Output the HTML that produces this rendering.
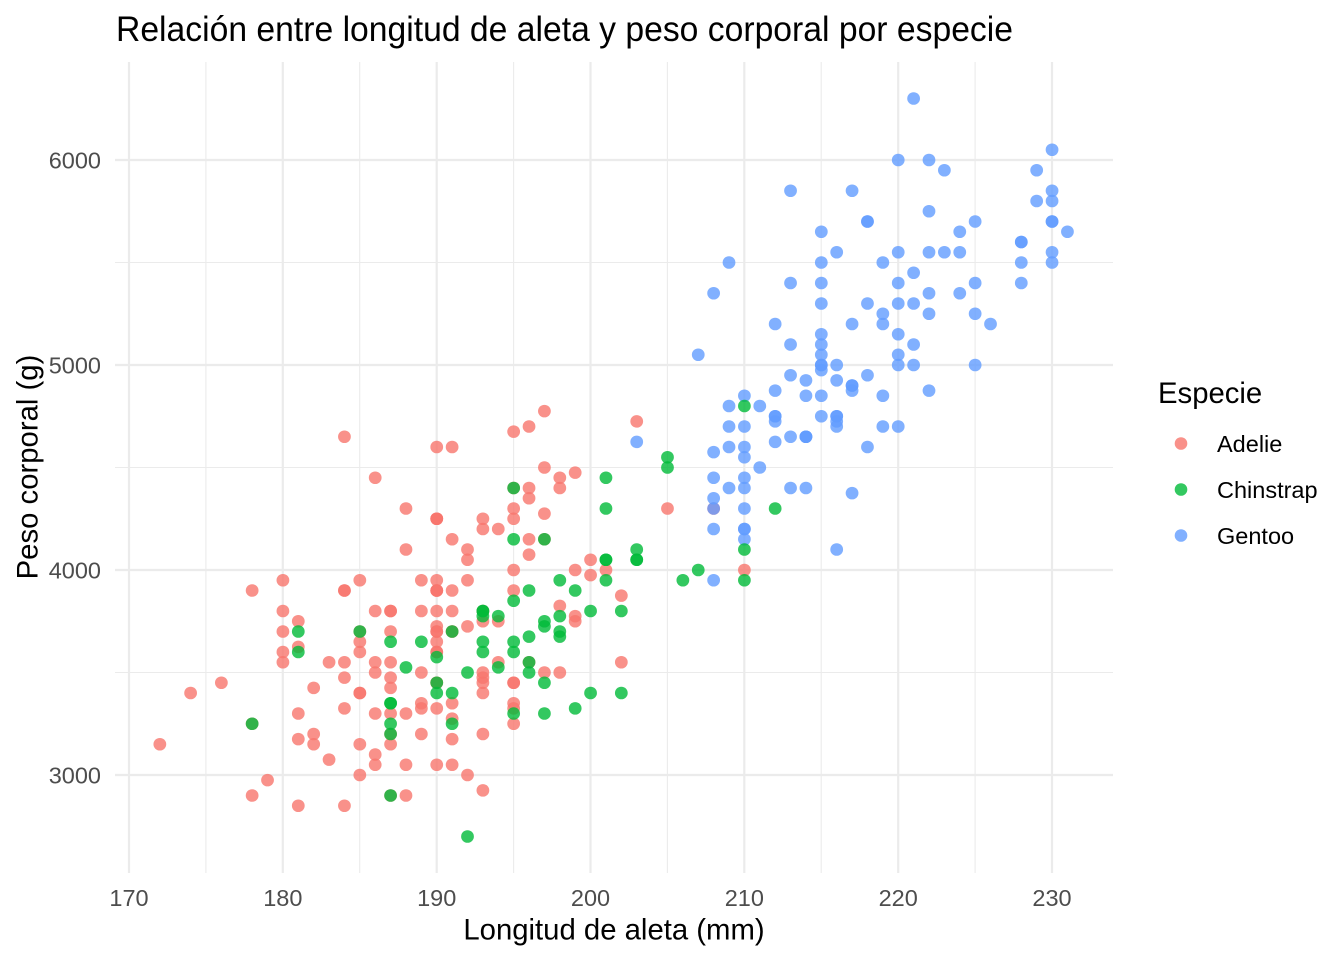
<!DOCTYPE html>
<html><head><meta charset="utf-8"><style>
html,body{margin:0;padding:0;background:#fff;}
svg{display:block;}
text{font-family:"Liberation Sans",Arial,sans-serif;}
.p path{fill:none;stroke-width:12.6px;stroke-linecap:round;vector-effect:non-scaling-stroke;stroke-opacity:.8;}
.a path{stroke:#F8766D;}
.g path{stroke:#619CFF;}
.c path{stroke:#00BA38;}
</style></head><body>
<svg width="1344" height="960" viewBox="0 0 1344 960" xmlns="http://www.w3.org/2000/svg">
<rect width="1344" height="960" fill="#fff"/>
<g stroke="#EBEBEB" fill="none">
<g stroke-width="1.1">
<line x1="205.9" y1="62" x2="205.9" y2="873"/><line x1="359.7" y1="62" x2="359.7" y2="873"/><line x1="513.6" y1="62" x2="513.6" y2="873"/><line x1="667.4" y1="62" x2="667.4" y2="873"/><line x1="821.2" y1="62" x2="821.2" y2="873"/><line x1="975.1" y1="62" x2="975.1" y2="873"/>
<line x1="115" y1="262.5" x2="1113" y2="262.5"/><line x1="115" y1="467.5" x2="1113" y2="467.5"/><line x1="115" y1="672.5" x2="1113" y2="672.5"/>
</g>
<g stroke-width="2.2">
<line x1="129" y1="62" x2="129" y2="873"/><line x1="282.8" y1="62" x2="282.8" y2="873"/><line x1="436.7" y1="62" x2="436.7" y2="873"/><line x1="590.5" y1="62" x2="590.5" y2="873"/><line x1="744.3" y1="62" x2="744.3" y2="873"/><line x1="898.2" y1="62" x2="898.2" y2="873"/><line x1="1052" y1="62" x2="1052" y2="873"/>
<line x1="115" y1="160" x2="1113" y2="160"/><line x1="115" y1="365" x2="1113" y2="365"/><line x1="115" y1="570" x2="1113" y2="570"/><line x1="115" y1="775" x2="1113" y2="775"/>
</g>
</g>
<g class="p" transform="matrix(15.383 0 0 -0.205 -2486.11 1390)">
<g class="a">
<path d="M181 3750h.01"/><path d="M186 3800h.01"/><path d="M195 3250h.01"/><path d="M193 3450h.01"/><path d="M190 3650h.01"/><path d="M181 3625h.01"/><path d="M195 4675h.01"/><path d="M193 3475h.01"/><path d="M190 4250h.01"/><path d="M186 3300h.01"/>
<path d="M180 3700h.01"/><path d="M182 3200h.01"/><path d="M191 3800h.01"/><path d="M198 4400h.01"/><path d="M185 3700h.01"/><path d="M195 3450h.01"/><path d="M197 4500h.01"/><path d="M184 3325h.01"/><path d="M194 4200h.01"/><path d="M174 3400h.01"/>
<path d="M180 3600h.01"/><path d="M189 3800h.01"/><path d="M185 3950h.01"/><path d="M180 3800h.01"/><path d="M187 3800h.01"/><path d="M183 3550h.01"/><path d="M187 3200h.01"/><path d="M172 3150h.01"/><path d="M180 3950h.01"/><path d="M178 3250h.01"/>
<path d="M178 3900h.01"/><path d="M188 3300h.01"/><path d="M184 3900h.01"/><path d="M195 3325h.01"/><path d="M196 4150h.01"/><path d="M190 3950h.01"/><path d="M180 3550h.01"/><path d="M181 3300h.01"/><path d="M184 4650h.01"/><path d="M182 3150h.01"/>
<path d="M195 3900h.01"/><path d="M186 3100h.01"/><path d="M196 4400h.01"/><path d="M185 3000h.01"/><path d="M190 4600h.01"/><path d="M182 3425h.01"/><path d="M179 2975h.01"/><path d="M190 3450h.01"/><path d="M191 4150h.01"/><path d="M186 3500h.01"/>
<path d="M188 4300h.01"/><path d="M190 3450h.01"/><path d="M200 4050h.01"/><path d="M187 2900h.01"/><path d="M191 3700h.01"/><path d="M186 3550h.01"/><path d="M193 3800h.01"/><path d="M181 2850h.01"/><path d="M194 3750h.01"/><path d="M185 3150h.01"/>
<path d="M195 4400h.01"/><path d="M185 3600h.01"/><path d="M192 4050h.01"/><path d="M184 2850h.01"/><path d="M192 3950h.01"/><path d="M195 3350h.01"/><path d="M188 4100h.01"/><path d="M190 3050h.01"/><path d="M198 4450h.01"/><path d="M190 3600h.01"/>
<path d="M190 3900h.01"/><path d="M196 3550h.01"/><path d="M197 4150h.01"/><path d="M190 3700h.01"/><path d="M195 4250h.01"/><path d="M191 3700h.01"/><path d="M184 3900h.01"/><path d="M187 3550h.01"/><path d="M195 4000h.01"/><path d="M189 3200h.01"/>
<path d="M196 4700h.01"/><path d="M187 3800h.01"/><path d="M193 4200h.01"/><path d="M191 3350h.01"/><path d="M194 3550h.01"/><path d="M190 3800h.01"/><path d="M189 3500h.01"/><path d="M189 3950h.01"/><path d="M190 3600h.01"/><path d="M202 3550h.01"/>
<path d="M205 4300h.01"/><path d="M185 3400h.01"/><path d="M186 4450h.01"/><path d="M187 3300h.01"/><path d="M208 4300h.01"/><path d="M190 3700h.01"/><path d="M196 4350h.01"/><path d="M178 2900h.01"/><path d="M192 4100h.01"/><path d="M192 3725h.01"/>
<path d="M203 4725h.01"/><path d="M183 3075h.01"/><path d="M190 4250h.01"/><path d="M193 2925h.01"/><path d="M184 3550h.01"/><path d="M199 3750h.01"/><path d="M190 3900h.01"/><path d="M181 3175h.01"/><path d="M197 4775h.01"/><path d="M198 3825h.01"/>
<path d="M191 4600h.01"/><path d="M193 3200h.01"/><path d="M197 4275h.01"/><path d="M191 3900h.01"/><path d="M196 4075h.01"/><path d="M188 2900h.01"/><path d="M199 3775h.01"/><path d="M189 3350h.01"/><path d="M189 3325h.01"/><path d="M187 3150h.01"/>
<path d="M198 3500h.01"/><path d="M176 3450h.01"/><path d="M202 3875h.01"/><path d="M186 3050h.01"/><path d="M199 4000h.01"/><path d="M191 3275h.01"/><path d="M195 4300h.01"/><path d="M191 3050h.01"/><path d="M210 4000h.01"/><path d="M190 3325h.01"/>
<path d="M197 3500h.01"/><path d="M193 3500h.01"/><path d="M199 4475h.01"/><path d="M187 3425h.01"/><path d="M190 3900h.01"/><path d="M191 3175h.01"/><path d="M200 3975h.01"/><path d="M185 3400h.01"/><path d="M193 4250h.01"/><path d="M193 3400h.01"/>
<path d="M187 3475h.01"/><path d="M188 3050h.01"/><path d="M190 3725h.01"/><path d="M192 3000h.01"/><path d="M185 3650h.01"/><path d="M190 4250h.01"/><path d="M184 3475h.01"/><path d="M195 3450h.01"/><path d="M193 3750h.01"/><path d="M187 3700h.01"/>
<path d="M201 4000h.01"/>
</g>
<g class="g">
<path d="M211 4500h.01"/><path d="M230 5700h.01"/><path d="M210 4450h.01"/><path d="M218 5700h.01"/><path d="M215 5400h.01"/><path d="M210 4550h.01"/><path d="M211 4800h.01"/><path d="M219 5200h.01"/><path d="M209 4400h.01"/><path d="M215 5150h.01"/>
<path d="M214 4650h.01"/><path d="M216 5550h.01"/><path d="M214 4650h.01"/><path d="M213 5850h.01"/><path d="M210 4200h.01"/><path d="M217 5850h.01"/><path d="M210 4150h.01"/><path d="M221 6300h.01"/><path d="M209 4800h.01"/><path d="M222 5350h.01"/>
<path d="M218 5700h.01"/><path d="M215 5000h.01"/><path d="M213 4400h.01"/><path d="M215 5050h.01"/><path d="M215 5000h.01"/><path d="M215 5100h.01"/><path d="M216 4100h.01"/><path d="M215 5650h.01"/><path d="M210 4600h.01"/><path d="M220 5550h.01"/>
<path d="M222 5250h.01"/><path d="M209 4700h.01"/><path d="M207 5050h.01"/><path d="M230 6050h.01"/><path d="M220 5150h.01"/><path d="M220 5400h.01"/><path d="M213 4950h.01"/><path d="M219 5250h.01"/><path d="M208 4350h.01"/><path d="M208 5350h.01"/>
<path d="M208 3950h.01"/><path d="M225 5700h.01"/><path d="M210 4300h.01"/><path d="M216 4750h.01"/><path d="M222 5550h.01"/><path d="M217 4900h.01"/><path d="M210 4200h.01"/><path d="M225 5400h.01"/><path d="M213 5100h.01"/><path d="M215 5300h.01"/>
<path d="M210 4850h.01"/><path d="M220 5300h.01"/><path d="M210 4400h.01"/><path d="M225 5000h.01"/><path d="M217 4900h.01"/><path d="M220 5050h.01"/><path d="M208 4300h.01"/><path d="M220 5000h.01"/><path d="M208 4450h.01"/><path d="M224 5550h.01"/>
<path d="M208 4200h.01"/><path d="M221 5300h.01"/><path d="M214 4400h.01"/><path d="M231 5650h.01"/><path d="M219 4700h.01"/><path d="M230 5700h.01"/><path d="M214 4650h.01"/><path d="M229 5800h.01"/><path d="M220 4700h.01"/><path d="M223 5550h.01"/>
<path d="M216 4750h.01"/><path d="M221 5000h.01"/><path d="M221 5100h.01"/><path d="M217 5200h.01"/><path d="M216 4700h.01"/><path d="M230 5800h.01"/><path d="M209 4600h.01"/><path d="M220 6000h.01"/><path d="M215 4750h.01"/><path d="M223 5950h.01"/>
<path d="M212 4625h.01"/><path d="M221 5450h.01"/><path d="M212 4725h.01"/><path d="M224 5350h.01"/><path d="M212 4750h.01"/><path d="M228 5600h.01"/><path d="M218 4600h.01"/><path d="M218 5300h.01"/><path d="M212 4875h.01"/><path d="M230 5550h.01"/>
<path d="M218 4950h.01"/><path d="M228 5400h.01"/><path d="M212 4750h.01"/><path d="M224 5650h.01"/><path d="M214 4850h.01"/><path d="M226 5200h.01"/><path d="M216 4925h.01"/><path d="M222 4875h.01"/><path d="M203 4625h.01"/><path d="M225 5250h.01"/>
<path d="M219 4850h.01"/><path d="M228 5600h.01"/><path d="M215 4975h.01"/><path d="M228 5500h.01"/><path d="M216 4725h.01"/><path d="M215 5500h.01"/><path d="M210 4700h.01"/><path d="M219 5500h.01"/><path d="M208 4575h.01"/><path d="M209 5500h.01"/>
<path d="M216 5000h.01"/><path d="M229 5950h.01"/><path d="M213 4650h.01"/><path d="M230 5500h.01"/><path d="M217 4375h.01"/><path d="M230 5850h.01"/><path d="M217 4875h.01"/><path d="M222 6000h.01"/><path d="M214 4925h.01"/><path d="M215 4850h.01"/>
<path d="M222 5750h.01"/><path d="M212 5200h.01"/><path d="M213 5400h.01"/>
</g>
<g class="c">
<path d="M192 3500h.01"/><path d="M196 3900h.01"/><path d="M193 3650h.01"/><path d="M188 3525h.01"/><path d="M197 3725h.01"/><path d="M198 3950h.01"/><path d="M178 3250h.01"/><path d="M197 3750h.01"/><path d="M195 4150h.01"/><path d="M198 3700h.01"/>
<path d="M193 3800h.01"/><path d="M194 3775h.01"/><path d="M185 3700h.01"/><path d="M201 4050h.01"/><path d="M190 3575h.01"/><path d="M201 4050h.01"/><path d="M197 3300h.01"/><path d="M181 3700h.01"/><path d="M190 3450h.01"/><path d="M195 4400h.01"/>
<path d="M181 3600h.01"/><path d="M191 3400h.01"/><path d="M187 2900h.01"/><path d="M193 3800h.01"/><path d="M195 3300h.01"/><path d="M197 4150h.01"/><path d="M200 3400h.01"/><path d="M200 3800h.01"/><path d="M191 3700h.01"/><path d="M205 4550h.01"/>
<path d="M187 3200h.01"/><path d="M201 4300h.01"/><path d="M187 3350h.01"/><path d="M203 4100h.01"/><path d="M195 3600h.01"/><path d="M199 3900h.01"/><path d="M195 3850h.01"/><path d="M210 4800h.01"/><path d="M192 2700h.01"/><path d="M205 4500h.01"/>
<path d="M210 3950h.01"/><path d="M187 3650h.01"/><path d="M196 3550h.01"/><path d="M196 3500h.01"/><path d="M196 3675h.01"/><path d="M201 4450h.01"/><path d="M190 3400h.01"/><path d="M212 4300h.01"/><path d="M187 3250h.01"/><path d="M198 3675h.01"/>
<path d="M199 3325h.01"/><path d="M201 3950h.01"/><path d="M193 3600h.01"/><path d="M203 4050h.01"/><path d="M187 3350h.01"/><path d="M197 3450h.01"/><path d="M191 3250h.01"/><path d="M203 4050h.01"/><path d="M202 3800h.01"/><path d="M194 3525h.01"/>
<path d="M206 3950h.01"/><path d="M189 3650h.01"/><path d="M195 3650h.01"/><path d="M207 4000h.01"/><path d="M202 3400h.01"/><path d="M193 3775h.01"/><path d="M210 4100h.01"/><path d="M198 3775h.01"/>
</g>
</g>
<g font-size="23.5" fill="#4D4D4D">
<g text-anchor="end">
<text x="101" y="168.5">6000</text><text x="101" y="373.5">5000</text><text x="101" y="578.5">4000</text><text x="101" y="783.5">3000</text>
</g>
<g text-anchor="middle">
<text x="129" y="906">170</text><text x="282.8" y="906">180</text><text x="436.7" y="906">190</text><text x="590.5" y="906">200</text><text x="744.3" y="906">210</text><text x="898.2" y="906">220</text><text x="1052" y="906">230</text>
</g>
</g>
<text x="614" y="939.5" font-size="29.3" text-anchor="middle" fill="#000">Longitud de aleta (mm)</text>
<text transform="translate(37.5,467) rotate(-90)" font-size="29.3" text-anchor="middle" fill="#000">Peso corporal (g)</text>
<text x="116" y="41" font-size="35" textLength="897" lengthAdjust="spacingAndGlyphs" fill="#000">Relación entre longitud de aleta y peso corporal por especie</text>
<text x="1158" y="403" font-size="29.3" fill="#000">Especie</text>
<circle cx="1181" cy="443.5" r="6.3" fill="#F8766D" fill-opacity=".8"/>
<circle cx="1181" cy="489.5" r="6.3" fill="#00BA38" fill-opacity=".8"/>
<circle cx="1181" cy="535.5" r="6.3" fill="#619CFF" fill-opacity=".8"/>
<g font-size="23.5" fill="#000">
<text x="1217" y="452">Adelie</text><text x="1217" y="498">Chinstrap</text><text x="1217" y="544">Gentoo</text>
</g>
</svg>
</body></html>
